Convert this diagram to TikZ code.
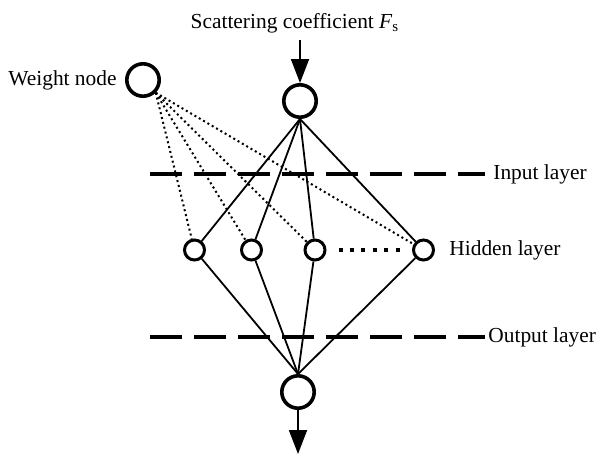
\documentclass[tikz,border=0pt]{standalone}
\usepackage{fontspec}
\setmainfont{Liberation Serif}
\usetikzlibrary{arrows.meta,positioning}

\begin{document}
\begin{tikzpicture}[
  x=0.5pt,
  y=-0.5pt,
  every node/.style={font=\fontsize{10.7}{13}\selectfont},
  neuron/.style={draw, circle, line width=1.8pt, inner sep=0pt, minimum size=16.2pt},
  hidden/.style={draw, circle, line width=1.5pt, inner sep=0pt, minimum size=10pt},
  link/.style={line width=0.9pt},
  weightlink/.style={line width=1pt, dash pattern=on 1pt off 1.5pt},
  layer/.style={line width=1.6pt, dash pattern=on 16pt off 6pt},
  ellipsis/.style={line width=2pt, dash pattern=on 2pt off 3.7pt},
  feed/.style={line width=0.9pt, -{Triangle[length=12pt, width=9pt]}}
]
  \useasboundingbox (0,0) rectangle (597,455);

  % ---- neurons ------------------------------------------------------------
  \node[neuron] (weight) at (143,80) {};
  \node[neuron] (input) at (300,101) {};
  \node[neuron] (output) at (298,392) {};
  \foreach \i/\x in {1/194.5, 2/251.5, 3/315, 4/423.5}
    \node[hidden] (h\i) at (\x,250) {};

  % ---- labels -------------------------------------------------------------
  \node[anchor=base] (title) at (295,28)
    {Scattering coefficient \textit{F}\textsubscript{s}};
  \node[left=4pt of weight, inner sep=0pt] (wlabel) {Weight node};
  \node[right=7pt of h4, inner sep=0pt] (hlabel) {Hidden layer};
  \node[anchor=west, inner sep=0pt] (inlabel) at (493,174) {Input layer};
  \node[anchor=west, inner sep=0pt] (outlabel) at (488,337) {Output layer};

  % ---- layer boundaries ---------------------------------------------------
  \coordinate (inleft) at (150,174);
  \coordinate (outleft) at (150,337);
  \draw[layer] (inleft) -- ([xshift=-4pt]inlabel.west);
  \draw[layer] (outleft) -- ([xshift=-1.5pt]outlabel.west);

  % ---- connections --------------------------------------------------------
  \foreach \i in {1,...,4} {
    \draw[link] (input.south) -- (h\i);
    \draw[link] (h\i) -- (output.north);
    \draw[weightlink] (weight.south east) -- (h\i);
  }
  \draw[ellipsis] ([xshift=6pt]h3.east) -- ([xshift=-6pt]h4.west);

  % ---- in and out ---------------------------------------------------------
  \coordinate (sink) at (298,454);
  \draw[feed] (title.south -| input.north) -- (input.north);
  \draw[feed] (output.south) -- (sink);
\end{tikzpicture}
\end{document}
